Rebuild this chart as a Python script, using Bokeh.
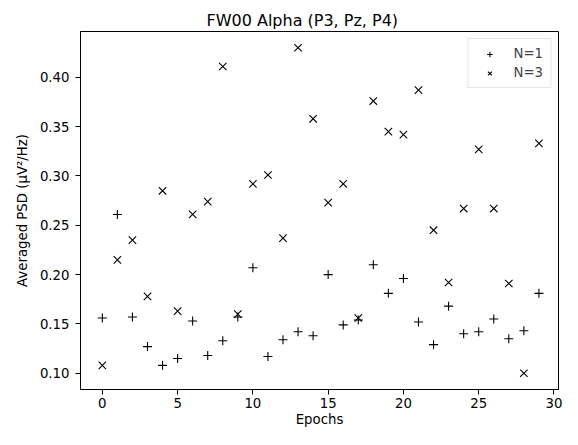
from bokeh.plotting import figure
from bokeh.models import Range1d, FixedTicker, NumeralTickFormatter
from bokeh.embed import file_html
from bokeh.resources import INLINE

epochs = list(range(30))
psd_n1 = [0.156, 0.261, 0.157, 0.127, 0.108, 0.115, 0.153, 0.118, 0.133, 0.157,
          0.207, 0.117, 0.134, 0.142, 0.138, 0.200, 0.149, 0.154, 0.210, 0.181,
          0.196, 0.152, 0.129, 0.168, 0.140, 0.142, 0.155, 0.135, 0.143, 0.181]
psd_n3 = [0.108, 0.215, 0.235, 0.178, 0.285, 0.163, 0.261, 0.274, 0.411, 0.160,
          0.292, 0.301, 0.237, 0.430, 0.358, 0.273, 0.292, 0.156, 0.376, 0.345,
          0.342, 0.387, 0.245, 0.192, 0.267, 0.327, 0.267, 0.191, 0.100, 0.333]
x_ticks = [0, 5, 10, 15, 20, 25, 30]
y_ticks = [0.10, 0.15, 0.20, 0.25, 0.30, 0.35, 0.40]

FONT = "DejaVu Sans"

p = figure(width=562, height=429, output_backend="svg", toolbar_location=None,
           x_range=Range1d(-1.45, 30.3), y_range=Range1d(0.0835, 0.4465),
           min_border_left=80, min_border_right=4, min_border_top=31,
           min_border_bottom=33)

p.title.text = "FW00 Alpha (P3, Pz, P4)"
p.title.text_font = FONT
p.title.text_font_size = "16px"
p.title.text_font_style = "normal"
p.title.text_color = "black"
p.title.align = "left"
p.title.offset = 126
p.title.standoff = 4

p.scatter(epochs, psd_n1, marker="cross", size=9, line_color="black",
          line_width=1.1, legend_label="N=1")
p.scatter(epochs, psd_n3, marker="x", size=10.5, line_color="black",
          line_width=1.1, legend_label="N=3")

p.xgrid.visible = False
p.ygrid.visible = False
p.outline_line_color = "black"
p.outline_line_width = 1
p.outline_line_alpha = 1

for ax in (p.xaxis[0], p.yaxis[0]):
    ax.axis_line_color = "black"
    ax.major_tick_line_color = "black"
    ax.major_tick_out = 5
    ax.major_tick_in = 0
    ax.minor_tick_line_color = None
    ax.major_label_text_font = FONT
    ax.major_label_text_font_size = "13.3px"
    ax.major_label_text_color = "black"
    ax.axis_label_text_font = FONT
    ax.axis_label_text_font_size = "13.3px"
    ax.axis_label_text_font_style = "normal"
    ax.axis_label_text_color = "black"

p.xaxis.ticker = FixedTicker(ticks=x_ticks)
p.yaxis.ticker = FixedTicker(ticks=y_ticks)
p.yaxis.formatter = NumeralTickFormatter(format="0.00")
p.xaxis.axis_label = "Epochs"
p.yaxis.axis_label = "Averaged PSD (μV²/Hz)"
p.xaxis.major_label_standoff = 3
p.yaxis.major_label_standoff = 6
p.xaxis.axis_label_standoff = 1
p.yaxis.axis_label_standoff = 7

lg = p.legend[0]
lg.location = "top_right"
lg.margin = 7
lg.padding = 7
lg.spacing = 4
lg.glyph_width = 28
lg.glyph_height = 14
lg.label_height = 14
lg.label_standoff = 10
lg.label_text_font = FONT
lg.label_text_font_size = "13.3px"
lg.border_line_color = "#cccccc"
lg.border_line_width = 1
lg.background_fill_color = "white"
lg.background_fill_alpha = 0.8

open("out.html", "w").write(file_html(p, INLINE))
